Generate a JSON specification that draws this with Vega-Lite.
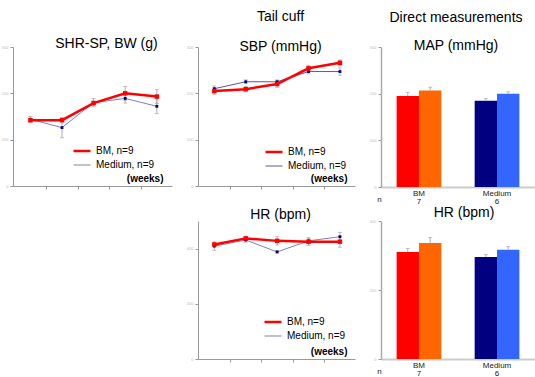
{
  "$schema": "https://vega.github.io/schema/vega-lite/v6.json",
  "padding": {"left": 1, "top": 10, "right": 0, "bottom": 0},
  "background": "white",
  "config": {
    "view": {"stroke": null},
    "font": "Liberation Sans",
    "axis": {"grid": false, "domainColor": "#999", "domainWidth": 1, "tickColor": "#999", "tickSize": 3, "labelFontSize": 4, "labelColor": "#bbb", "labelPadding": 2},
    "legend": {"orient": "none", "title": null, "symbolType": "stroke", "symbolSize": 289, "labelFontSize": 10, "labelColor": "#000", "labelOffset": 4, "padding": 0, "rowPadding": 0},
    "title": {"font": "Liberation Sans", "fontSize": 14, "fontWeight": "normal", "color": "#000", "subtitleFont": "Liberation Sans", "subtitleFontSize": 14, "subtitleColor": "#000"}
  },
  "datasets": {
    "bw": [
      {"wk": 1, "g": "BM, n=9", "m": 142, "lo": 139, "hi": 145},
      {"wk": 2, "g": "BM, n=9", "m": 142, "lo": 139, "hi": 145},
      {"wk": 3, "g": "BM, n=9", "m": 179, "lo": 175, "hi": 183},
      {"wk": 4, "g": "BM, n=9", "m": 200, "lo": 185, "hi": 215},
      {"wk": 5, "g": "BM, n=9", "m": 193, "lo": 178, "hi": 208},
      {"wk": 1, "g": "Medium, n=9", "m": 144, "lo": 138, "hi": 150},
      {"wk": 2, "g": "Medium, n=9", "m": 126, "lo": 104, "hi": 148},
      {"wk": 3, "g": "Medium, n=9", "m": 180, "lo": 171, "hi": 189},
      {"wk": 4, "g": "Medium, n=9", "m": 189, "lo": 179, "hi": 199},
      {"wk": 5, "g": "Medium, n=9", "m": 172, "lo": 156, "hi": 188}
    ],
    "sbp": [
      {"wk": 1, "g": "BM, n=9", "m": 205, "lo": 198, "hi": 212},
      {"wk": 2, "g": "BM, n=9", "m": 209, "lo": 203, "hi": 215},
      {"wk": 3, "g": "BM, n=9", "m": 220, "lo": 213, "hi": 227},
      {"wk": 4, "g": "BM, n=9", "m": 254, "lo": 248, "hi": 260},
      {"wk": 5, "g": "BM, n=9", "m": 266, "lo": 260, "hi": 272},
      {"wk": 1, "g": "Medium, n=9", "m": 210, "lo": 204, "hi": 216},
      {"wk": 2, "g": "Medium, n=9", "m": 225, "lo": 221, "hi": 229},
      {"wk": 3, "g": "Medium, n=9", "m": 225, "lo": 221, "hi": 229},
      {"wk": 4, "g": "Medium, n=9", "m": 247, "lo": 242, "hi": 252},
      {"wk": 5, "g": "Medium, n=9", "m": 247, "lo": 239, "hi": 255}
    ],
    "hr": [
      {"wk": 1, "g": "BM, n=9", "m": 415, "lo": 410, "hi": 420},
      {"wk": 2, "g": "BM, n=9", "m": 437, "lo": 429, "hi": 445},
      {"wk": 3, "g": "BM, n=9", "m": 428, "lo": 413, "hi": 443},
      {"wk": 4, "g": "BM, n=9", "m": 425, "lo": 411, "hi": 439},
      {"wk": 5, "g": "BM, n=9", "m": 425, "lo": 405, "hi": 445},
      {"wk": 1, "g": "Medium, n=9", "m": 409, "lo": 394, "hi": 424},
      {"wk": 2, "g": "Medium, n=9", "m": 431, "lo": 423, "hi": 439},
      {"wk": 3, "g": "Medium, n=9", "m": 388, "lo": 384, "hi": 392},
      {"wk": 4, "g": "Medium, n=9", "m": 428, "lo": 418, "hi": 438},
      {"wk": 5, "g": "Medium, n=9", "m": 443, "lo": 427, "hi": 459}
    ],
    "map": [
      {"grp": "BM", "c": "a", "k": "BM-a", "v": 195, "hi": 203},
      {"grp": "BM", "c": "b", "k": "BM-b", "v": 207, "hi": 214},
      {"grp": "Medium", "c": "a", "k": "Medium-a", "v": 185, "hi": 190},
      {"grp": "Medium", "c": "b", "k": "Medium-b", "v": 200, "hi": 204}
    ],
    "hrb": [
      {"grp": "BM", "c": "a", "k": "BM-a", "v": 310, "hi": 320},
      {"grp": "BM", "c": "b", "k": "BM-b", "v": 336, "hi": 352},
      {"grp": "Medium", "c": "a", "k": "Medium-a", "v": 296, "hi": 303},
      {"grp": "Medium", "c": "b", "k": "Medium-b", "v": 317, "hi": 326}
    ],
    "none": []
  },
  "bounds": "flush",
  "columns": 3,
  "spacing": {"row": 34, "column": 26},
  "resolve": {"scale": {"color": "independent", "strokeWidth": "independent"}, "legend": {"color": "independent", "strokeWidth": "independent"}},
  "concat": [
    {
      "width": 159, "height": 139,
      "data": {"name": "bw"},
      "title": {"text": "SHR-SP, BW (g)", "dx": 14, "offset": -6},
      "encoding": {
        "x": {"field": "wk", "type": "quantitative", "scale": {"domain": [0.45, 5.48], "nice": false, "zero": false},
              "axis": {"values": [1.5, 2.5, 3.5, 4.5], "labels": false, "title": "(weeks)", "titleFontWeight": "bold", "titleFontSize": 10, "titleX": 150, "titleY": -5, "titleAlign": "right", "titleBaseline": "alphabetic"}}
      },
      "layer": [
        {"mark": {"type": "rule", "color": "#999", "strokeWidth": 0.8},
         "encoding": {"y": {"field": "lo", "type": "quantitative", "scale": {"domain": [0, 300], "nice": false}, "axis": {"values": [0, 100, 200, 300], "title": null}}, "y2": {"field": "hi"}}},
        {"mark": {"type": "tick", "color": "#999", "size": 4, "thickness": 0.8, "orient": "horizontal"}, "encoding": {"y": {"field": "lo", "type": "quantitative"}}},
        {"mark": {"type": "tick", "color": "#999", "size": 4, "thickness": 0.8, "orient": "horizontal"}, "encoding": {"y": {"field": "hi", "type": "quantitative"}}},
        {"transform": [{"filter": "datum.g == 'Medium, n=9'"}], "mark": {"type": "line"},
         "encoding": {"y": {"field": "m", "type": "quantitative"},
           "color": {"field": "g", "type": "nominal", "scale": {"domain": ["BM, n=9", "Medium, n=9"], "range": ["#ff0000", "#8080b8"]}, "legend": {"legendX": 59, "legendY": 94}},
           "strokeWidth": {"field": "g", "type": "nominal", "scale": {"domain": ["BM, n=9", "Medium, n=9"], "range": [2.5, 1]}}}},
        {"transform": [{"filter": "datum.g == 'Medium, n=9'"}], "mark": {"type": "square", "color": "#000080", "size": 8, "opacity": 1}, "encoding": {"y": {"field": "m", "type": "quantitative"}}},
        {"transform": [{"filter": "datum.g == 'BM, n=9'"}], "mark": {"type": "line"},
         "encoding": {"y": {"field": "m", "type": "quantitative"}, "color": {"field": "g", "type": "nominal"}, "strokeWidth": {"field": "g", "type": "nominal"}}},
        {"transform": [{"filter": "datum.g == 'BM, n=9'"}], "mark": {"type": "square", "color": "#ff0000", "size": 20, "opacity": 1}, "encoding": {"y": {"field": "m", "type": "quantitative"}}}
      ]
    },
    {
      "width": 157, "height": 139,
      "data": {"name": "sbp"},
      "title": {"text": "Tail cuff", "subtitle": "SBP (mmHg)", "subtitlePadding": 16, "dx": 4, "offset": -9},
      "encoding": {
        "x": {"field": "wk", "type": "quantitative", "scale": {"domain": [0.48, 5.48], "nice": false, "zero": false},
              "axis": {"values": [1.5, 2.5, 3.5, 4.5], "labels": false, "title": "(weeks)", "titleFontWeight": "bold", "titleFontSize": 10, "titleX": 149, "titleY": -5, "titleAlign": "right", "titleBaseline": "alphabetic"}}
      },
      "layer": [
        {"mark": {"type": "rule", "color": "#999", "strokeWidth": 0.8},
         "encoding": {"y": {"field": "lo", "type": "quantitative", "scale": {"domain": [0, 300], "nice": false}, "axis": {"values": [0, 100, 200, 300], "title": null}}, "y2": {"field": "hi"}}},
        {"mark": {"type": "tick", "color": "#999", "size": 4, "thickness": 0.8, "orient": "horizontal"}, "encoding": {"y": {"field": "lo", "type": "quantitative"}}},
        {"mark": {"type": "tick", "color": "#999", "size": 4, "thickness": 0.8, "orient": "horizontal"}, "encoding": {"y": {"field": "hi", "type": "quantitative"}}},
        {"transform": [{"filter": "datum.g == 'Medium, n=9'"}], "mark": {"type": "line"},
         "encoding": {"y": {"field": "m", "type": "quantitative"},
           "color": {"field": "g", "type": "nominal", "scale": {"domain": ["BM, n=9", "Medium, n=9"], "range": ["#ff0000", "#5858a0"]}, "legend": {"legendX": 66, "legendY": 95}},
           "strokeWidth": {"field": "g", "type": "nominal", "scale": {"domain": ["BM, n=9", "Medium, n=9"], "range": [2.5, 1]}}}},
        {"transform": [{"filter": "datum.g == 'Medium, n=9'"}], "mark": {"type": "square", "color": "#000080", "size": 8, "opacity": 1}, "encoding": {"y": {"field": "m", "type": "quantitative"}}},
        {"transform": [{"filter": "datum.g == 'BM, n=9'"}], "mark": {"type": "line"},
         "encoding": {"y": {"field": "m", "type": "quantitative"}, "color": {"field": "g", "type": "nominal"}, "strokeWidth": {"field": "g", "type": "nominal"}}},
        {"transform": [{"filter": "datum.g == 'BM, n=9'"}], "mark": {"type": "square", "color": "#ff0000", "size": 20, "opacity": 1}, "encoding": {"y": {"field": "m", "type": "quantitative"}}}
      ]
    },
    {
      "width": 154, "height": 140,
      "data": {"name": "map"},
      "title": {"text": "Direct measurements", "subtitle": "MAP (mmHg)", "subtitlePadding": 14, "dx": -2, "offset": -8},
      "encoding": {
        "x": {"field": "grp", "type": "nominal", "sort": ["BM", "Medium"], "scale": {"paddingInner": 0.427, "paddingOuter": 0.2},
              "axis": {"labelExpr": "datum.value == 'BM' ? ['BM', '7'] : ['Medium', '6']", "labelAngle": 0, "ticks": false, "domainColor": "#ccc", "domainWidth": 2, "labelFontSize": 8, "labelColor": "#222", "labelLineHeight": 8, "labelPadding": 2,
                       "title": "n", "titleFontSize": 8, "titleFontWeight": "normal", "titleColor": "#222", "titleX": -2, "titleY": 14, "titleAlign": "center", "titleBaseline": "alphabetic"}},
        "xOffset": {"field": "c", "type": "nominal", "sort": ["a", "b"]}
      },
      "layer": [
        {"mark": {"type": "bar"},
         "encoding": {"y": {"field": "v", "type": "quantitative", "scale": {"domain": [0, 300], "nice": false}, "axis": {"values": [0, 100, 200, 300], "title": null, "domainColor": "#aaa", "domainWidth": 1.5}},
           "color": {"field": "k", "type": "nominal", "scale": {"domain": ["BM-a", "BM-b", "Medium-a", "Medium-b"], "range": ["#ff0000", "#ff6600", "#000080", "#3366ff"]}, "legend": null}}},
        {"mark": {"type": "rule", "color": "#999", "strokeWidth": 0.8}, "encoding": {"y": {"field": "v", "type": "quantitative"}, "y2": {"field": "hi"}}},
        {"mark": {"type": "tick", "color": "#999", "size": 4, "thickness": 0.8, "orient": "horizontal"}, "encoding": {"y": {"field": "hi", "type": "quantitative"}}}
      ]
    },
    {
      "width": 159, "height": 138,
      "data": {"name": "none"},
      "mark": "point"
    },
    {
      "width": 157, "height": 138,
      "data": {"name": "hr"},
      "title": {"text": "HR (bpm)", "dx": 4, "offset": -1},
      "encoding": {
        "x": {"field": "wk", "type": "quantitative", "scale": {"domain": [0.48, 5.48], "nice": false, "zero": false},
              "axis": {"values": [1.5, 2.5, 3.5, 4.5], "labels": false, "title": "(weeks)", "titleFontWeight": "bold", "titleFontSize": 10, "titleX": 149, "titleY": -5, "titleAlign": "right", "titleBaseline": "alphabetic"}}
      },
      "layer": [
        {"mark": {"type": "rule", "color": "#999", "strokeWidth": 0.8},
         "encoding": {"y": {"field": "lo", "type": "quantitative", "scale": {"domain": [0, 500], "nice": false}, "axis": {"values": [0, 100, 200, 300, 400, 500], "title": null}}, "y2": {"field": "hi"}}},
        {"mark": {"type": "tick", "color": "#999", "size": 4, "thickness": 0.8, "orient": "horizontal"}, "encoding": {"y": {"field": "lo", "type": "quantitative"}}},
        {"mark": {"type": "tick", "color": "#999", "size": 4, "thickness": 0.8, "orient": "horizontal"}, "encoding": {"y": {"field": "hi", "type": "quantitative"}}},
        {"transform": [{"filter": "datum.g == 'Medium, n=9'"}], "mark": {"type": "line"},
         "encoding": {"y": {"field": "m", "type": "quantitative"},
           "color": {"field": "g", "type": "nominal", "scale": {"domain": ["BM, n=9", "Medium, n=9"], "range": ["#ff0000", "#8080b8"]}, "legend": {"legendX": 65, "legendY": 91}},
           "strokeWidth": {"field": "g", "type": "nominal", "scale": {"domain": ["BM, n=9", "Medium, n=9"], "range": [2.5, 1]}}}},
        {"transform": [{"filter": "datum.g == 'Medium, n=9'"}], "mark": {"type": "square", "color": "#000080", "size": 8, "opacity": 1}, "encoding": {"y": {"field": "m", "type": "quantitative"}}},
        {"transform": [{"filter": "datum.g == 'BM, n=9'"}], "mark": {"type": "line"},
         "encoding": {"y": {"field": "m", "type": "quantitative"}, "color": {"field": "g", "type": "nominal"}, "strokeWidth": {"field": "g", "type": "nominal"}}},
        {"transform": [{"filter": "datum.g == 'BM, n=9'"}], "mark": {"type": "square", "color": "#ff0000", "size": 20, "opacity": 1}, "encoding": {"y": {"field": "m", "type": "quantitative"}}}
      ]
    },
    {
      "width": 154, "height": 138,
      "data": {"name": "hrb"},
      "title": {"text": "HR (bpm)", "dx": 6, "offset": -1},
      "encoding": {
        "x": {"field": "grp", "type": "nominal", "sort": ["BM", "Medium"], "scale": {"paddingInner": 0.427, "paddingOuter": 0.2},
              "axis": {"labelExpr": "datum.value == 'BM' ? ['BM', '7'] : ['Medium', '6']", "labelAngle": 0, "ticks": false, "domainColor": "#ccc", "domainWidth": 2, "labelFontSize": 8, "labelColor": "#222", "labelLineHeight": 8, "labelPadding": 2,
                       "title": "n", "titleFontSize": 8, "titleFontWeight": "normal", "titleColor": "#222", "titleX": -2, "titleY": 14, "titleAlign": "center", "titleBaseline": "alphabetic"}},
        "xOffset": {"field": "c", "type": "nominal", "sort": ["a", "b"]}
      },
      "layer": [
        {"mark": {"type": "bar"},
         "encoding": {"y": {"field": "v", "type": "quantitative", "scale": {"domain": [0, 400], "nice": false}, "axis": {"values": [0, 100, 200, 300, 400], "title": null, "domainColor": "#aaa", "domainWidth": 1.5}},
           "color": {"field": "k", "type": "nominal", "scale": {"domain": ["BM-a", "BM-b", "Medium-a", "Medium-b"], "range": ["#ff0000", "#ff6600", "#000080", "#3366ff"]}, "legend": null}}},
        {"mark": {"type": "rule", "color": "#999", "strokeWidth": 0.8}, "encoding": {"y": {"field": "v", "type": "quantitative"}, "y2": {"field": "hi"}}},
        {"mark": {"type": "tick", "color": "#999", "size": 4, "thickness": 0.8, "orient": "horizontal"}, "encoding": {"y": {"field": "hi", "type": "quantitative"}}}
      ]
    }
  ]
}
